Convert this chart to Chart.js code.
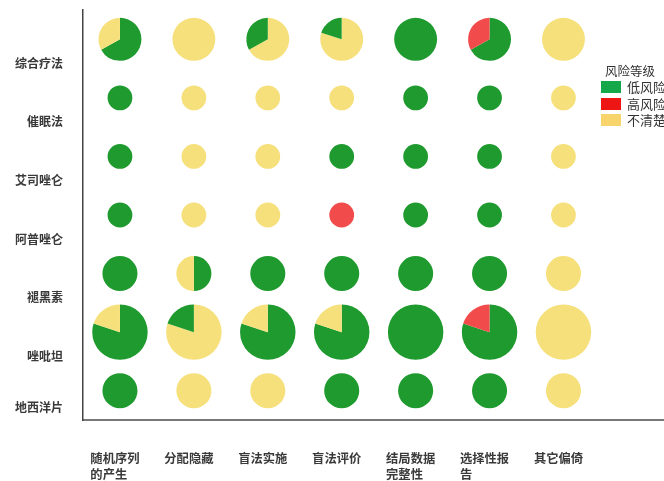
<!DOCTYPE html>
<html>
<head>
<meta charset="utf-8">
<script src="https://cdn.jsdelivr.net/npm/chart.js@4/dist/chart.umd.min.js"></script>
<style>
  html, body { margin: 0; padding: 0; background: #fff; overflow: hidden; }
  #wrap { position: relative; width: 664px; height: 481px; }
  #legend { position: absolute; left: 601px; top: 62px; font-family: "Noto Sans CJK SC", sans-serif; color: #333; white-space: nowrap; }
  #legend .title { font-size: 12.5px; margin-left: 4px; height: 17px; line-height: 17px; }
  #legend .item { display: flex; align-items: center; height: 16.5px; }
  #legend .sw { width: 20px; height: 12px; margin-right: 6px; }
  #legend .lbl { font-size: 13px; line-height: 16px; }
</style>
</head>
<body>
<div id="wrap">
  <canvas id="c" width="664" height="481"></canvas>
  <div id="legend"></div>
</div>
<script>
// ---- data ----
const rows = ['综合疗法', '催眠法', '艾司唑仑', '阿普唑仑', '褪黑素', '唑吡坦', '地西洋片'];
const domains = [
  ['随机序列', '的产生　'],
  ['分配隐藏'],
  ['盲法实施'],
  ['盲法评价'],
  ['结局数据', '完整性　'],
  ['选择性报', '告　　　'],
  ['其它偏倚']
];
const riskLevels = ['低风险', '高风险', '不清楚'];
const legendTitle = '风险等级';
// number of studies per row (pie area)
const studies = [3, 1, 1, 1, 2, 5, 2];
// percentage of each risk level, rows x domains
const lowRisk = [
  [67, 0, 33, 20, 100, 67, 0],
  [100, 0, 0, 0, 100, 100, 0],
  [100, 0, 0, 100, 100, 100, 0],
  [100, 0, 0, 0, 100, 100, 0],
  [100, 50, 100, 100, 100, 100, 0],
  [80, 20, 80, 80, 100, 80, 0],
  [100, 0, 0, 100, 100, 100, 0]
];
const highRisk = [
  [0, 0, 0, 0, 0, 33, 0],
  [0, 0, 0, 0, 0, 0, 0],
  [0, 0, 0, 0, 0, 0, 0],
  [0, 0, 0, 100, 0, 0, 0],
  [0, 0, 0, 0, 0, 0, 0],
  [0, 0, 0, 0, 0, 20, 0],
  [0, 0, 0, 0, 0, 0, 0]
];
const unclearRisk = [
  [33, 100, 67, 80, 0, 0, 100],
  [0, 100, 100, 100, 0, 0, 100],
  [0, 100, 100, 0, 0, 0, 100],
  [0, 100, 100, 0, 0, 0, 100],
  [0, 50, 0, 0, 0, 0, 100],
  [20, 80, 20, 20, 0, 0, 100],
  [0, 100, 100, 0, 0, 0, 100]
];

// ---- styles ----
const pieColors = ['#1f9a2f', '#f24b4b', '#f6e07c'];
const legendColors = ['#14a84b', '#ee1515', '#f8d46c'];
const baseRadius = 12.4;
const fontFamily = '"Noto Sans CJK SC", sans-serif';

// build bubble points (one per cell)
const points = [];
rows.forEach((r, i) => {
  domains.forEach((d, j) => {
    points.push({ x: j, y: i, r: baseRadius * Math.sqrt(studies[i]) });
  });
});

const piePlugin = {
  id: 'pies',
  afterDatasetsDraw(chart) {
    const ctx = chart.ctx;
    const meta = chart.getDatasetMeta(0);
    meta.data.forEach((el, k) => {
      const raw = chart.data.datasets[0].data[k];
      const i = raw.y, j = raw.x;
      const vals = [lowRisk[i][j], highRisk[i][j], unclearRisk[i][j]];
      const segs = vals.map((v, idx) => ({ v, idx })).filter(s => s.v > 0)
        .sort((a, b) => b.v - a.v);
      const total = segs.reduce((s, a) => s + a.v, 0);
      const rad = el.options.radius;
      let a0 = -Math.PI / 2;
      ctx.save();
      segs.forEach(s => {
        const a1 = a0 + (s.v / total) * Math.PI * 2;
        ctx.beginPath();
        ctx.moveTo(el.x, el.y);
        ctx.arc(el.x, el.y, rad, a0, a1);
        ctx.closePath();
        ctx.fillStyle = pieColors[s.idx];
        ctx.fill();
        a0 = a1;
      });
      ctx.restore();
    });
  }
};

function noPad(axis) {
  axis.paddingTop = 0; axis.paddingBottom = 0;
  axis.paddingLeft = 0; axis.paddingRight = 0;
}

new Chart(document.getElementById('c'), {
  type: 'bubble',
  data: {
    datasets: [{
      label: legendTitle,
      data: points,
      backgroundColor: 'rgba(0,0,0,0)',
      borderColor: 'rgba(0,0,0,0)',
      borderWidth: 0,
      clip: false
    }]
  },
  plugins: [piePlugin],
  options: {
    responsive: false,
    animation: false,
    devicePixelRatio: 1,
    events: [],
    layout: { autoPadding: false, padding: { top: 10, right: 0, bottom: 0, left: 0 } },
    plugins: { legend: { display: false }, tooltip: { enabled: false } },
    scales: {
      x: {
        type: 'linear',
        position: 'bottom',
        min: -0.5,
        max: 7.36,
        afterBuildTicks(axis) { axis.ticks = domains.map((d, j) => ({ value: j })); },
        afterFit(axis) { axis.height = 61; noPad(axis); },
        grid: { display: false, drawTicks: false },
        border: { display: true, color: '#777', width: 2 },
        ticks: {
          autoSkip: false,
          maxRotation: 0,
          minRotation: 0,
          padding: 30,
          labelOffset: -5,
          color: '#3a3a3a',
          font: { family: fontFamily, size: 12.3, weight: 'bold', lineHeight: 1.3 },
          callback(v) { return domains[v]; }
        }
      },
      y: {
        type: 'linear',
        reverse: true,
        min: -0.5,
        max: 6.5,
        afterBuildTicks(axis) { axis.ticks = rows.map((r, i) => ({ value: i })); },
        afterFit(axis) { axis.width = 83; noPad(axis); },
        grid: { display: false, drawTicks: false },
        border: { display: true, color: '#444', width: 1.5 },
        ticks: {
          autoSkip: false,
          padding: 20,
          labelOffset: 24,
          color: '#3a3a3a',
          font: { family: fontFamily, size: 12, weight: 'bold' },
          callback(v) { return v === rows.length - 1 ? [rows[v], ''] : rows[v]; }
        }
      }
    }
  }
});

// legend
const lg = document.getElementById('legend');
const t = document.createElement('div');
t.className = 'title';
t.textContent = legendTitle;
lg.appendChild(t);
riskLevels.forEach((name, k) => {
  const it = document.createElement('div');
  it.className = 'item';
  const sw = document.createElement('div');
  sw.className = 'sw';
  sw.style.background = legendColors[k];
  const lb = document.createElement('span');
  lb.className = 'lbl';
  lb.textContent = name;
  it.appendChild(sw);
  it.appendChild(lb);
  lg.appendChild(it);
});
</script>
</body>
</html>
